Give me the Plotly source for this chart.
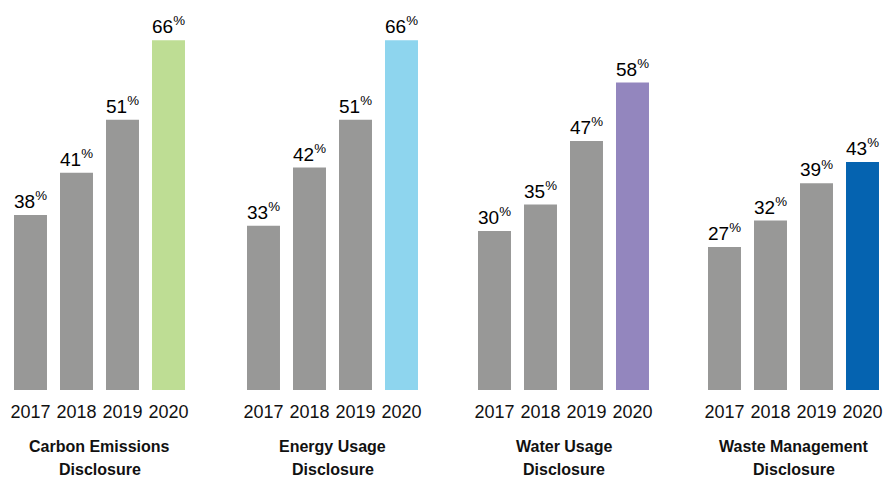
import plotly.graph_objects as go

years = ["2017", "2018", "2019", "2020"]
group_line1 = ["Carbon Emissions", "Energy Usage", "Water Usage", "Waste Management"]
group_line2 = ["Disclosure", "Disclosure", "Disclosure", "Disclosure"]
# labelled percentages
carbon = [38, 41, 51, 66]
energy = [33, 42, 51, 66]
water = [30, 35, 47, 58]
waste = [27, 32, 39, 43]
# bar heights as drawn in the picture (some bars are drawn shorter than labelled)
carbon_h = [33, 41, 51, 66]
energy_h = [31, 42, 51, 66]
water_h = [30, 35, 47, 58]
waste_h = [27, 32, 39, 43]

labels = [carbon, energy, water, waste]
heights = [carbon_h, energy_h, water_h, waste_h]
highlight = ["#BEDD94", "#8ED5EE", "#9386BE", "#0563B0"]
gray = "#989897"

W, H = 886, 477
T, B = 10, 87
PH = H - T - B
starts = [7.5, 240.5, 471.5, 701.5]
span = 184
FONT = "Liberation Sans, Arial"

fig = go.Figure()
for g in range(4):
    ax = "" if g == 0 else str(g + 1)
    colors = [gray, gray, gray, highlight[g]]
    fig.add_trace(go.Bar(
        x=years, y=heights[g],
        marker=dict(color=colors, line=dict(width=0)),
        text=[f"{v}<sup>%</sup>" for v in labels[g]],
        textposition="outside",
        textfont=dict(family=FONT, size=20, color="#000000"),
        cliponaxis=False,
        xaxis="x" + ax, yaxis="y" + ax,
        hoverinfo="skip",
    ))
    d0 = starts[g] / W
    d1 = min((starts[g] + span) / W, 1.0)
    fig.layout["xaxis" + ax] = dict(
        domain=[d0, d1], range=[-0.5, 3.5], showgrid=False, zeroline=False,
        showline=False, ticks="", type="category", ticklabelstandoff=9,
        tickfont=dict(family=FONT, size=18, color="#111111"),
        anchor="y" + ax,
    )
    fig.layout["yaxis" + ax] = dict(
        range=[0, PH / 5.3], visible=False, anchor="x" + ax,
    )
    cx = (starts[g] + span / 2) / W
    for txt, ypx in ((group_line1[g], 446), (group_line2[g], 469)):
        fig.add_annotation(
            x=cx, y=(H - B - ypx) / PH, xref="paper", yref="paper",
            text=f"<b>{txt}</b>", showarrow=False,
            xanchor="center", yanchor="middle",
            font=dict(family=FONT, size=16, color="#111111"),
        )

fig.update_layout(
    width=W, height=H, margin=dict(l=0, r=0, t=T, b=B),
    paper_bgcolor="white", plot_bgcolor="white",
    showlegend=False, bargap=0.283,
)
fig.write_html("out.html", config={"displayModeBar": False},
               post_script="document.body.style.margin='0px';document.body.style.overflow='hidden';")
